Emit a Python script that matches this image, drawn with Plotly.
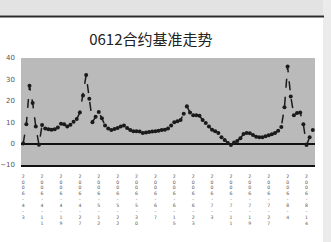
import plotly.graph_objects as go

title_text = "0612合约基准走势"

basis_values = [
    0, 9, 27, 19, 8, -0.5, 8.7, 7, 6.7, 6.5,
    6.7, 7.5, 9.3, 9, 8, 8.8, 10.2, 11.5, 14.5, 22.5,
    32, 21, 10, 12.5, 14.8, 11.8, 8.5, 7, 6.3, 6.8,
    7.3, 8, 8.5, 7.3, 6.3, 5.8, 5.8, 5.6, 4.9, 5.2,
    5.4, 5.6, 5.8, 6, 6.3, 6.5, 7, 8.5, 10, 10.5,
    11, 14, 17.5, 14.5, 13.3, 13.3, 13, 11, 9.6, 8,
    6.5, 5.8, 5, 3, 1.7, 0.3, -0.7, 0.5, 1.2, 2.5,
    4.5, 5, 4.8, 4, 3.2, 3, 3, 3.4, 3.9, 4.4,
    5, 6, 7.8, 17, 36, 22, 13.3, 14.3, 14.5, 9,
    -0.7, 3, 6.3,
]

label_positions = [0, 6, 12, 18, 24, 30, 36, 42, 48, 54, 60, 66, 72, 78, 84, 90]
date_labels = [
    "2006-4-3", "2006-4-11", "2006-4-19", "2006-4-27", "2006-5-12", "2006-5-22",
    "2006-5-30", "2006-6-7", "2006-6-15", "2006-6-23", "2006-7-3", "2006-7-11",
    "2006-7-19", "2006-7-27", "2006-8-4", "2006-8-14",
]
y_ticks = [-10, 0, 10, 20, 30, 40]

x_index = list(range(len(basis_values)))
stacked_labels = ["<br>".join(list(s)) for s in date_labels]

W, H = 331, 242
L, R, T, B = 21, 16, 58, 77
pw = W - L - R
ph = H - T - B


def px_x(p):
    return (p - L) / pw


def px_y(p):
    return (H - B - p) / ph


fig = go.Figure()
fig.add_trace(go.Scatter(
    x=x_index, y=basis_values, mode="lines+markers",
    line=dict(color="#1a1a1a", width=1.5, dash="dash"),
    marker=dict(symbol="circle", size=4, color="#1a1a1a"),
    showlegend=False, hoverinfo="skip",
))

shapes = [
    dict(type="rect", xref="paper", yref="paper", x0=px_x(0), x1=px_x(W), y0=px_y(15.5), y1=px_y(0),
         fillcolor="#e3e3e3", line=dict(width=0), layer="above"),
    dict(type="rect", xref="paper", yref="paper", x0=px_x(323), x1=px_x(W), y0=px_y(H), y1=px_y(0),
         fillcolor="#ebebeb", line=dict(width=0), layer="above"),
    dict(type="line", xref="paper", yref="paper", x0=px_x(0), x1=px_x(324), y0=px_y(16.5), y1=px_y(16.5),
         line=dict(color="#2a2a2a", width=2), layer="above"),
]

fig.update_layout(
    width=W, height=H,
    margin=dict(l=L, r=R, t=T, b=B),
    paper_bgcolor="white",
    plot_bgcolor="#bababa",
    shapes=shapes,
    title=dict(text=title_text, x=px_x(155), xanchor="center", y=1 - 40 / H, yanchor="middle",
               font=dict(family="Noto Sans CJK SC", size=15, color="#222222")),
    xaxis=dict(
        range=[-0.7, len(basis_values) - 0.3],
        tickmode="array", tickvals=label_positions, ticktext=stacked_labels,
        tickangle=0, tickfont=dict(family="DejaVu Sans", size=4.6, color="#555555"),
        ticks="", showgrid=False, zeroline=False,
        showline=True, linecolor="#111111", linewidth=2,
        ticklabelstandoff=5, automargin=False,
    ),
    yaxis=dict(
        range=[-10, 40], tickmode="array", tickvals=y_ticks,
        tickfont=dict(family="DejaVu Sans", size=7, color="#555555"),
        ticks="", showgrid=False,
        zeroline=True, zerolinecolor="#111111", zerolinewidth=2,
        showline=False, ticklabelstandoff=5, automargin=False,
    ),
)

fig.write_html("out.html", config={"displayModeBar": False},
               post_script="document.body.style.margin='0';")
